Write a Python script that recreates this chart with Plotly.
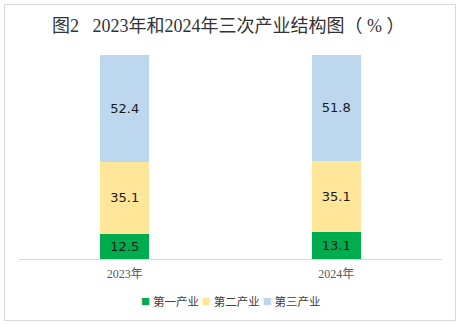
import plotly.graph_objects as go

years = ["2023年", "2024年"]
primary = [12.5, 13.1]
secondary = [35.1, 35.1]
tertiary = [52.4, 51.8]

series_names = ["第一产业", "第二产业", "第三产业"]
series_values = [primary, secondary, tertiary]
series_colors = ["#00AD4E", "#FFE699", "#BDD7EE"]

serif = "Liberation Serif, Noto Sans CJK SC, serif"

fig = go.Figure()
for name, vals, color in zip(series_names, series_values, series_colors):
    fig.add_trace(go.Bar(
        x=years, y=vals, name=name,
        marker=dict(color=color, line=dict(width=0)),
        width=0.232,
        text=[f"{v:.1f}" for v in vals],
        textposition="inside",
        insidetextanchor="middle",
        textangle=0,
        textfont=dict(family="DejaVu Sans, sans-serif", size=13, color="#1a1a1a"),
        showlegend=False,
    ))

# compact legend row: coloured square + series name
legend_text = "&nbsp;".join(
    f"<span style='color:{c};font-size:15px'>■</span>&nbsp;{n}"
    for n, c in zip(series_names, series_colors)
)
fig.add_annotation(
    text=legend_text, xref="paper", yref="paper",
    x=0.5, y=(259 - 301) / 204, xanchor="center", yanchor="middle",
    showarrow=False, font=dict(family=serif, size=11.5, color="#404040"),
)

fig.update_layout(
    barmode="stack",
    width=461, height=326,
    margin=dict(l=19, r=19, t=55, b=67),
    paper_bgcolor="white",
    plot_bgcolor="white",
    title=dict(
        text="图2   2023年和2024年三次产业结构图（ % ）",
        x=0.495, xanchor="center", y=0.92, yanchor="middle",
        font=dict(family=serif, size=18, color="#333333"),
    ),
    xaxis=dict(
        showline=True, linecolor="#d9d9d9", linewidth=1,
        ticks="", tickfont=dict(family=serif, size=12, color="#595959"),
        ticklabelstandoff=4,
        range=[-0.5, 1.5],
    ),
    yaxis=dict(visible=False, range=[0, 100]),
)

# outer frame around the whole chart
fig.add_shape(
    type="rect", xref="paper", yref="paper",
    x0=(4.5 - 19) / 423, x1=(455.5 - 19) / 423,
    y0=(259 - 320.5) / 204, y1=(259 - 4.5) / 204,
    line=dict(color="#d9d9d9", width=1), fillcolor="rgba(0,0,0,0)",
    layer="below",
)

fig.write_html("out.html")
